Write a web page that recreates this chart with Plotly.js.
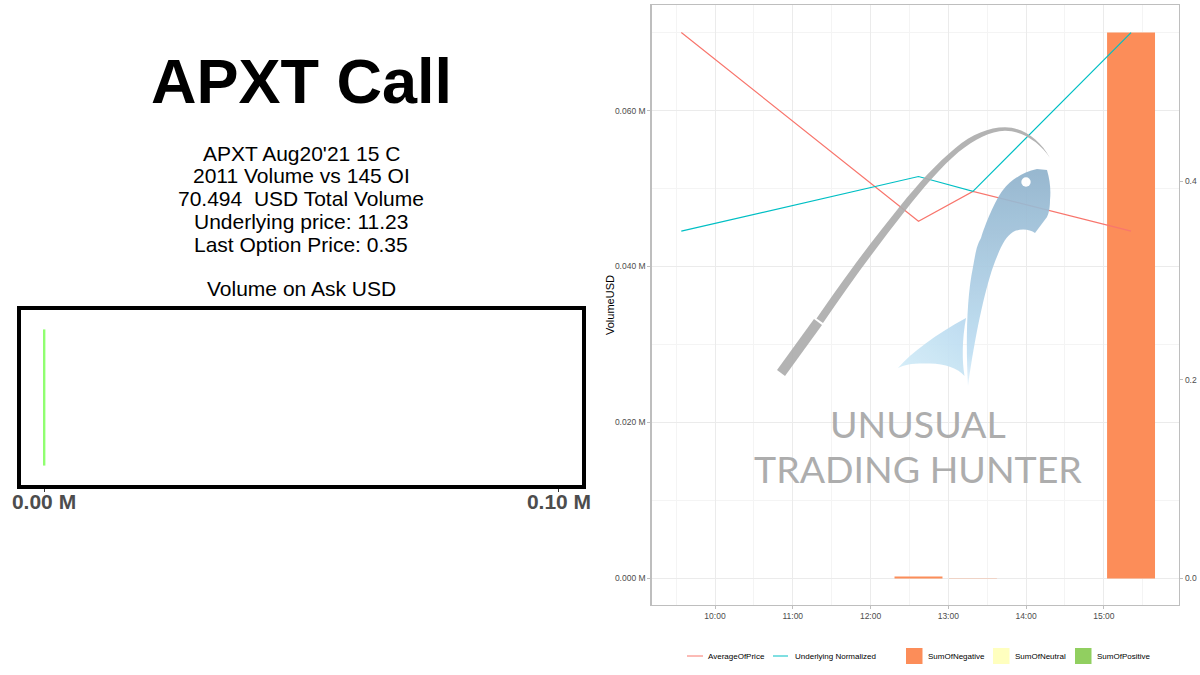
<!DOCTYPE html>
<html><head><meta charset="utf-8">
<script src="https://cdn.plot.ly/plotly-3.0.1.min.js"></script>
<style>html,body{margin:0;padding:0;background:#fff}</style></head>
<body><div id="chart" style="width:1200px;height:675px"></div>
<script>
const W = 1200, H = 675;
// Data
const times = ['2021-08-13 09:34', '2021-08-13 12:37', '2021-08-13 13:19', '2021-08-13 15:21'];
const averageOfPrice = [0.55, 0.36, 0.39, 0.35];
const underlyingNormalized = [0.35, 0.405, 0.39, 0.55];
const sumOfNegative = [0, 0.00025, 0.00003, 0.07];
const sumOfNeutral = [0, 0, 0, 0];
const sumOfPositive = [0, 0, 0, 0];
const askCategory = ['Ask'];
const askValue = [0.00007];
const askTickVals = [0, 0.1];
const askTickText = ['0.00 M', '0.10 M'];
const volTickVals = [0, 0.02, 0.04, 0.06];
const volTickText = ['0.000 M', '0.020 M', '0.040 M', '0.060 M'];
const infoLines = ["APXT Aug20'21 15 C", '2011 Volume vs 145 OI', '70.494  USD Total Volume', 'Underlying price: 11.23', 'Last Option Price: 0.35'];
const FONT = '"Liberation Sans", Arial, sans-serif';
const px = x => x / W, py = y => 1 - y / H;

const barW = 37 * 60000;
const traces = [
  {type:'bar', name:'SumOfPositive', orientation:'h', x:askValue, y:askCategory, xaxis:'x', yaxis:'y', width:0.92,
   marker:{color:'#90FF70', line:{color:'#90FF70', width:2}}, showlegend:false},
  {type:'bar', name:'SumOfNegative', x:times, y:sumOfNegative, xaxis:'x2', yaxis:'y2', width:barW, marker:{color:'#FC8D59'}, showlegend:false},
  {type:'bar', name:'SumOfNeutral', x:times, y:sumOfNeutral, xaxis:'x2', yaxis:'y2', width:barW, marker:{color:'#FFFFBF'}, showlegend:false},
  {type:'bar', name:'SumOfPositive', x:times, y:sumOfPositive, xaxis:'x2', yaxis:'y2', width:barW, marker:{color:'#91CF60'}, showlegend:false},
  {type:'scatter', mode:'lines', name:'AverageOfPrice', x:times, y:averageOfPrice, xaxis:'x2', yaxis:'y3', line:{color:'#F8766D', width:1.2}, showlegend:false},
  {type:'scatter', mode:'lines', name:'Underlying Normalized', x:times, y:underlyingNormalized, xaxis:'x2', yaxis:'y3', line:{color:'#00BFC4', width:1.2}, showlegend:false}
];

// Logo (decoration, page pixel coordinates)
const logo = `<svg xmlns="http://www.w3.org/2000/svg" width="${W}" height="${H}" viewBox="0 0 ${W} ${H}">
<defs>
<linearGradient id="b" x1="0" y1="0" x2="0" y2="1"><stop offset="0" stop-color="#8FB2CC"/><stop offset="0.85" stop-color="#BFDFF3"/><stop offset="1" stop-color="#E4F2FB"/></linearGradient>
<linearGradient id="f" x1="0" y1="1" x2="1" y2="0"><stop offset="0" stop-color="#D5EEF9"/><stop offset="1" stop-color="#B8D9EF"/></linearGradient>
</defs>
<g opacity="0.92">
<path d="M777 370 L785 376 L822 325 L814 319 Z" fill="#ADADAD"/>
<path d="M816.500 318.500 C 840 284, 870 243, 900.400 205.700 C 918 184, 937 163, 955.400 148 C 972 134, 989 127.500, 1005 127.300 C 1024 127.500, 1040 140, 1050 158 C 1041 144, 1024 131, 1005 130.700 C 990 131, 975 139, 958.600 152 C 941 167, 923 188, 905.600 210.300 C 876 248, 848 286, 823 323 Z" fill="#ADADAD"/>
<path d="M968 386 C 966 350, 966 300, 973 267 C 976 250, 977 245, 981 238 C 985 225, 995 200, 1003 190 C 1010 181, 1022 172, 1037 169 L 1047 170 C 1050 180, 1051 190, 1050 200 C 1050 210, 1048 215, 1047 217 L 1035 233 C 1030 229, 1020 228, 1013 232 C 1005 237, 1000 248, 993 267 C 985 290, 975 335, 968 386 Z" fill="url(#b)"/>
<circle cx="1026" cy="182" r="4.700" fill="#fff"/>
<path d="M898 368 C 912 352, 935 335, 966 318 C 962 340, 962 360, 964.500 376 C 958 368, 945 364, 930 363.500 C 915 363, 905 364, 898 368 Z" fill="url(#f)"/>
</g></svg>`;

const annotations = [
  {text:'APXT Call', x:px(301), y:py(81), font:{family:FONT, size:63, color:'#000', weight:700}},
  ...infoLines.map((t,i)=>({text:t, x:px(301), y:py(153 + i*22.8), font:{family:FONT, size:21, color:'#000'}})),
  {text:'Volume on Ask USD', x:px(301), y:py(288), font:{family:FONT, size:21, color:'#000'}},
  {text:'UNUSUAL', x:px(918), y:py(423), font:{family:'Lato, sans-serif', size:37.5, color:'#ADADAD'}},
  {text:'TRADING HUNTER', x:px(918), y:py(468), font:{family:'Lato, sans-serif', size:37.5, color:'#ADADAD'}},
  {text:'VolumeUSD', x:px(610), y:py(305), textangle:-90, font:{family:FONT, size:11, color:'#000'}}
].map(a=>Object.assign({xref:'paper', yref:'paper', xanchor:'center', yanchor:'middle', showarrow:false}, a));

const shapes = [];
// Key
const lineKeys = [['AverageOfPrice', 687, 703, 706, '#F8766D'], ['Underlying Normalized', 773, 788, 793, '#00BFC4']];
const boxKeys = [['SumOfNegative', 906, 926, '#FC8D59'], ['SumOfNeutral', 993, 1013, '#FFFFBF'], ['SumOfPositive', 1075, 1095, '#91CF60']];
lineKeys.forEach(k=>{
  shapes.push({type:'line', xref:'paper', yref:'paper', x0:px(k[1]), x1:px(k[2]), y0:py(656), y1:py(656), line:{color:k[4], width:1}});
  annotations.push({text:k[0], xref:'paper', yref:'paper', x:px(k[3]), y:py(656), xanchor:'left', yanchor:'middle', showarrow:false, font:{family:FONT, size:8, color:'#000'}});
});
boxKeys.forEach(k=>{
  shapes.push({type:'rect', xref:'paper', yref:'paper', x0:px(k[1]), x1:px(k[1]+16.5), y0:py(664), y1:py(648), fillcolor:k[3], line:{width:0}});
  annotations.push({text:k[0], xref:'paper', yref:'paper', x:px(k[2]), y:py(656), xanchor:'left', yanchor:'middle', showarrow:false, font:{family:FONT, size:8, color:'#000'}});
});

const layout = {
  width:W, height:H, margin:{l:0,r:0,t:0,b:0}, paper_bgcolor:'#fff', plot_bgcolor:'#fff', barmode:'overlay', showlegend:false,
  xaxis:{domain:[px(21),px(582)], anchor:'y', range:[-0.00447,0.10447], tickmode:'array', tickvals:askTickVals, ticktext:askTickText,
    showgrid:false, zeroline:false, showline:true, mirror:true, linecolor:'#000', linewidth:4, ticks:'outside', ticklen:3, tickcolor:'#333', ticklabelstandoff:-8,
    tickfont:{family:FONT, size:21, color:'#4D4D4D', weight:700}, automargin:false},
  yaxis:{domain:[py(485),py(310)], anchor:'x', type:'category', range:[-0.6,0.6], showticklabels:false, ticks:'', showgrid:false, zeroline:false,
    showline:true, mirror:true, linecolor:'#000', linewidth:4, automargin:false},
  xaxis2:{domain:[px(651.5),px(1179)], anchor:'y2', type:'date', range:['2021-08-13 09:11:00','2021-08-13 15:58:00'],
    dtick:3600000, tick0:'2021-08-13 10:00', tickformat:'%H:%M', showgrid:true, gridcolor:'#EBEBEB', gridwidth:1,
    minor:{dtick:1800000, showgrid:true, gridcolor:'#F4F4F4', gridwidth:1}, zeroline:false, showline:true, mirror:true, linecolor:'#BEBEBE', linewidth:1.2,
    ticks:'outside', ticklen:3, tickcolor:'#BEBEBE', tickfont:{family:FONT, size:8.5, color:'#4D4D4D'}, automargin:false},
  yaxis2:{domain:[py(605),py(5)], anchor:'x2', range:[-0.0034,0.07353], tickmode:'array', tickvals:volTickVals, ticktext:volTickText,
    showgrid:true, gridcolor:'#EBEBEB', gridwidth:1, minor:{tickvals:[0.01,0.03,0.05,0.07], showgrid:true, gridcolor:'#F4F4F4', gridwidth:1},
    zeroline:false, showline:true, linecolor:'#BEBEBE', linewidth:1.2, ticks:'outside', ticklen:3, tickcolor:'#BEBEBE',
    tickfont:{family:FONT, size:8.5, color:'#4D4D4D'}, automargin:false},
  yaxis3:{overlaying:'y2', anchor:'x2', side:'right', range:[-0.0267,0.5778], tickvals:[0,0.2,0.4], tickformat:'.1f', showgrid:false, zeroline:false,
    showline:true, linecolor:'#BEBEBE', linewidth:1.2, ticks:'outside', ticklen:3, tickcolor:'#BEBEBE', tickfont:{family:FONT, size:8.5, color:'#4D4D4D'}, automargin:false},
  annotations, shapes,
  images:[{source:'data:image/svg+xml;charset=utf-8,'+encodeURIComponent(logo), xref:'paper', yref:'paper', x:0, y:1, sizex:1, sizey:1, sizing:'stretch', xanchor:'left', yanchor:'top', layer:'above'}]
};
Plotly.newPlot('chart', traces, layout, {staticPlot:true, displayModeBar:false});
</script></body></html>
